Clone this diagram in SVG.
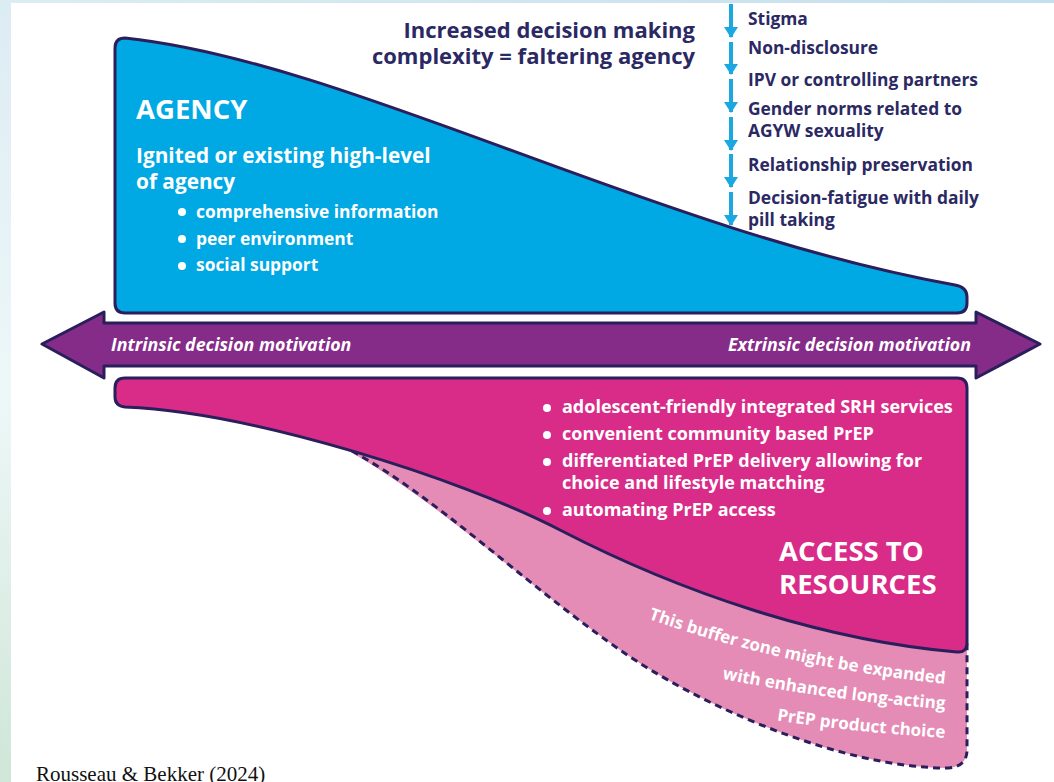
<svg xmlns="http://www.w3.org/2000/svg" width="1054" height="782" viewBox="0 0 1054 782">
<defs>
<linearGradient id="bgL" x1="0" y1="0" x2="0" y2="1">
<stop offset="0" stop-color="#dcecf3"/>
<stop offset="0.5" stop-color="#eef7f8"/>
<stop offset="1" stop-color="#cfe6d8"/>
</linearGradient>
<linearGradient id="bgT" x1="0" y1="0" x2="1" y2="0">
<stop offset="0" stop-color="#dcecf3"/>
<stop offset="1" stop-color="#c4e0ec"/>
</linearGradient>
<marker id="dn" viewBox="0 0 11 14" refX="10" refY="7" markerWidth="11" markerHeight="14" markerUnits="userSpaceOnUse" orient="auto">
<path d="M0 0 L11 7 L0 14 Z" fill="#1ba8e0"/>
</marker>
</defs>
<style>
.nv{fill:#2b2963;font-family:"Open Sans","Liberation Sans",sans-serif;font-weight:700}
.wt{fill:#ffffff;font-family:"Open Sans","Liberation Sans",sans-serif;font-weight:700}
.ol{stroke:#2a1f5c;stroke-width:3;stroke-linejoin:round}
.ar{stroke:#1ba8e0;stroke-width:4;fill:none}
</style>
<rect x="0" y="0" width="1054" height="782" fill="url(#bgL)"/>
<rect x="0" y="0" width="1054" height="3" fill="url(#bgT)"/>
<rect x="11" y="3" width="1043" height="779" fill="#ffffff"/>

<g id="buffer-zone">
<path d="M 340 446 C 430 495, 520 580, 620 650 C 700 706, 840 767, 945 768 Q 967 768 967 750 L 967 600 Z" fill="#e48cb6"/>
<path d="M 352 451 C 440 500, 520 580, 620 650 C 700 706, 840 767, 945 768 Q 967 768 967 750 L 967 640" fill="none" stroke="#2a1f5c" stroke-width="3" stroke-dasharray="7 5"/>
<path id="l1" d="M 630 612 Q 770 665 945 684" fill="none"/>
<path id="l2" d="M 700 674 Q 820 700 945 709" fill="none"/>
<path id="l3" d="M 760 718 Q 850 732 945 738" fill="none"/>
<text class="wt" font-size="17"><textPath href="#l1" startOffset="100%" text-anchor="end">This buffer zone might be expanded</textPath></text>
<text class="wt" font-size="17"><textPath href="#l2" startOffset="100%" text-anchor="end">with enhanced long-acting</textPath></text>
<text class="wt" font-size="17"><textPath href="#l3" startOffset="100%" text-anchor="end">PrEP product choice</textPath></text>
</g>

<g id="agency">
<path class="ol" d="M 115 48 Q 115 38 125 38 C 350 62, 650 230, 955 285 Q 967 287 967 297 L 967 303 Q 967 313 957 313 L 125 313 Q 115 313 115 303 Z" fill="#00a8e4"/>
<text class="wt" x="136" y="119" font-size="27.5">AGENCY</text>
<text class="wt" x="136" y="163" font-size="20.8">Ignited or existing high-level</text>
<text class="wt" x="136" y="189" font-size="20.8">of agency</text>
<circle cx="182" cy="212" r="4" fill="#fff"/>
<circle cx="182" cy="239" r="4" fill="#fff"/>
<circle cx="182" cy="266" r="4" fill="#fff"/>
<text class="wt" x="196" y="218" font-size="17.4">comprehensive information</text>
<text class="wt" x="196" y="245" font-size="17.4">peer environment</text>
<text class="wt" x="196" y="271" font-size="17.4">social support</text>
</g>

<g id="access">
<path class="ol" d="M 125 378 L 957 378 Q 967 378 967 388 L 967 642 Q 967 653 957 652 C 820 640, 680 592, 560 530 C 460 478, 250 412, 125 407 Q 115 406 115 397 L 115 388 Q 115 378 125 378 Z" fill="#d92c88"/>
<circle cx="547" cy="408" r="4" fill="#fff"/>
<circle cx="547" cy="435" r="4" fill="#fff"/>
<circle cx="547" cy="462" r="4" fill="#fff"/>
<circle cx="547" cy="511" r="4" fill="#fff"/>
<text class="wt" x="562" y="413" font-size="18">adolescent-friendly integrated SRH services</text>
<text class="wt" x="562" y="440" font-size="18">convenient community based PrEP</text>
<text class="wt" x="562" y="467" font-size="18">differentiated PrEP delivery allowing for</text>
<text class="wt" x="562" y="489" font-size="18">choice and lifestyle matching</text>
<text class="wt" x="562" y="516" font-size="18">automating PrEP access</text>
<text class="wt" x="779" y="561" font-size="27.5">ACCESS TO</text>
<text class="wt" x="779" y="594" font-size="27.5">RESOURCES</text>
</g>

<g id="motivation-axis">
<path class="ol" d="M 42 344 L 104 312 L 104 323 L 976 323 L 976 312 L 1040 344 L 976 378 L 976 366 L 104 366 L 104 378 Z" fill="#852b88"/>
<text class="wt" x="111" y="351" font-size="17.8" font-style="italic">Intrinsic decision motivation</text>
<text class="wt" x="971" y="351" font-size="17.8" font-style="italic" text-anchor="end">Extrinsic decision motivation</text>
</g>

<g id="title">
<text class="nv" x="695" y="38" font-size="22" text-anchor="end">Increased decision making</text>
<text class="nv" x="695" y="64" font-size="22" text-anchor="end">complexity = faltering agency</text>
</g>

<g id="connectors">
<line class="ar" x1="731" y1="4" x2="731" y2="37" marker-end="url(#dn)"/>
<line class="ar" x1="731" y1="42" x2="731" y2="74" marker-end="url(#dn)"/>
<line class="ar" x1="731" y1="79" x2="731" y2="112" marker-end="url(#dn)"/>
<line class="ar" x1="731" y1="117" x2="731" y2="150" marker-end="url(#dn)"/>
<line class="ar" x1="731" y1="154" x2="731" y2="187" marker-end="url(#dn)"/>
<line class="ar" x1="731" y1="192" x2="731" y2="225" marker-end="url(#dn)"/>
</g>

<g id="factors">
<text class="nv" x="748" y="25" font-size="17.4">Stigma</text>
<text class="nv" x="748" y="54" font-size="17.4">Non-disclosure</text>
<text class="nv" x="748" y="86" font-size="17.4">IPV or controlling partners</text>
<text class="nv" x="748" y="115" font-size="17.4">Gender norms related to</text>
<text class="nv" x="748" y="137" font-size="17.4">AGYW sexuality</text>
<text class="nv" x="748" y="171" font-size="17.4">Relationship preservation</text>
<text class="nv" x="748" y="204" font-size="17.4">Decision-fatigue with daily</text>
<text class="nv" x="748" y="226" font-size="17.4">pill taking</text>
</g>

<text x="36" y="781" font-family="Liberation Serif, serif" font-size="21" fill="#111">Rousseau &amp; Bekker (2024)</text>
</svg>
